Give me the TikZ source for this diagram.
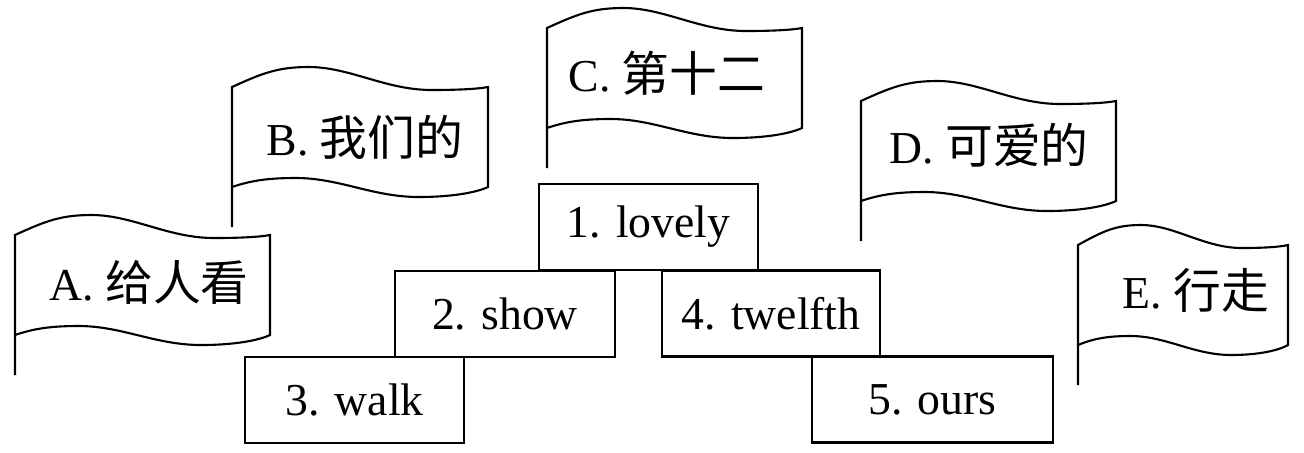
\documentclass[tikz,border=0pt]{standalone}
\usepackage{fontspec}
\setmainfont{Liberation Serif}
\newfontfamily\cjk{Noto Sans CJK SC}
\newcommand{\zh}[1]{{\fontsize{13.6}{15}\cjk #1}}
\newcommand{\wavyflag}[2]{%
    \begin{scope}[shift={#1}]
        \draw[flagline] (0,1.4) -- (0,0)
            .. controls (0.12*#2,-0.14) and (0.18*#2,-0.2) .. (0.3*#2,-0.2)
            .. controls (0.46*#2,-0.2) and (0.6*#2,0.03) .. (0.78*#2,0.03)
            .. controls (0.88*#2,0.03) and (0.96*#2,0.02) .. (#2,0)
            -- (#2,1)
            .. controls (0.95*#2,1.06) and (0.85*#2,1.1) .. (0.73*#2,1.1)
            .. controls (0.55*#2,1.1) and (0.42*#2,0.91) .. (0.25*#2,0.91)
            .. controls (0.15*#2,0.91) and (0.08*#2,0.93) .. (0,1);
    \end{scope}}
\begin{document}
\begin{tikzpicture}[x=1cm,y=-1cm,
        flagline/.style={line width=0.6pt},
        wordbox/.style={draw, line width=0.6pt, fill=white, minimum height=0.86cm, inner sep=0pt},
        label/.style={inner sep=0pt},
        font=\fontsize{13}{15}\selectfont]
    \useasboundingbox (0,0) rectangle (13.04,4.52);
    \wavyflag{(0.15,2.35)}{2.55}
    \wavyflag{(2.32,0.87)}{2.56}
    \wavyflag{(5.47,0.28)}{2.55}
    \wavyflag{(8.61,1.01)}{2.55}
    \wavyflag{(10.78,2.45)}{2.10}
    \node[label] (flagA) at (1.49,2.82) {A. \zh{给人看}};
    \node[label] (flagB) at (3.65,1.37) {B. \zh{我们的}};
    \node[label] (flagC) at (6.67,0.73) {C. \zh{第十二}};
    \node[label] (flagD) at (9.89,1.45) {D. \zh{可爱的}};
    \node[label] (flagE) at (11.96,2.90) {E. \zh{行走}};
    \node[wordbox, minimum width=2.19cm] (w1) at (6.485,2.27) {1. lovely};
    \node[wordbox, minimum width=2.20cm] (w2) at (5.05,3.14) {2. show};
    \node[wordbox, minimum width=2.18cm] (w4) at (7.71,3.135) {4. twelfth};
    \node[wordbox, minimum width=2.19cm] (w3) at (3.545,4.00) {3. walk};
    \node[wordbox, minimum width=2.41cm] (w5) at (9.325,3.995) {5. ours};
\end{tikzpicture}
\end{document}
